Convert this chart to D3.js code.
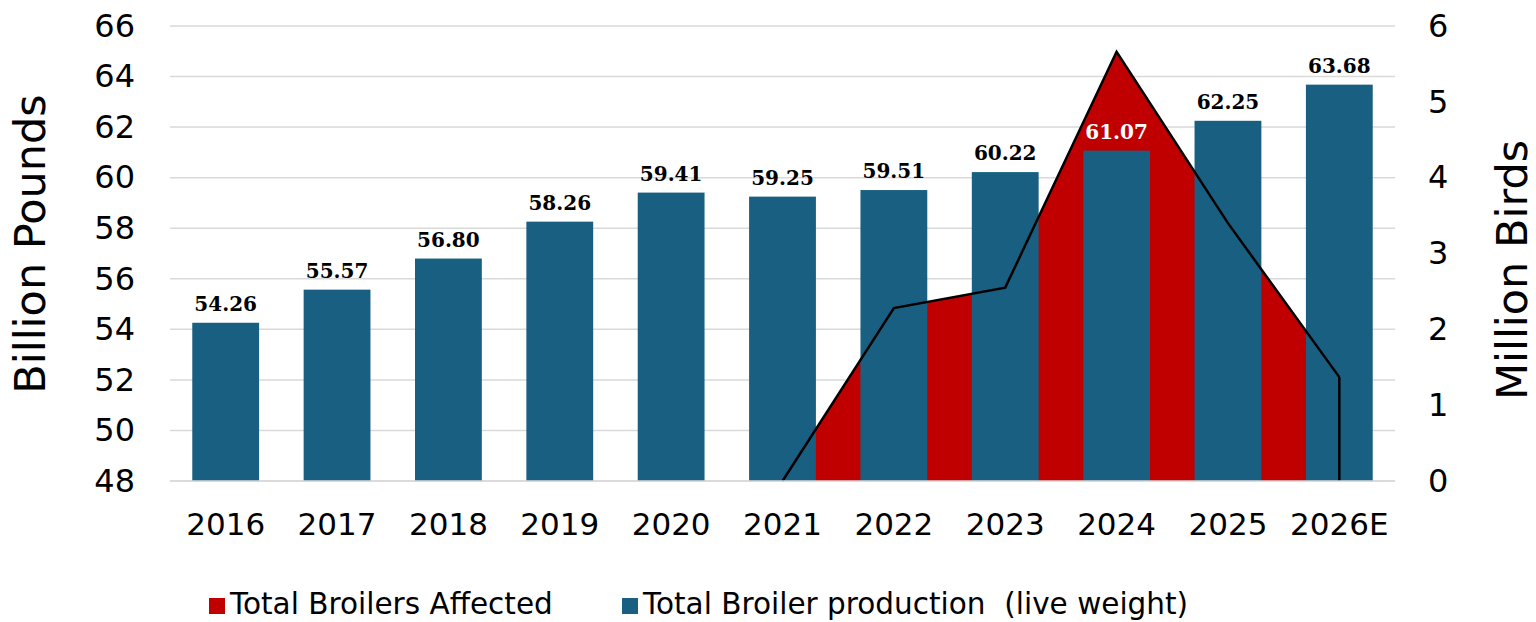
<!DOCTYPE html>
<html>
<head>
<meta charset="utf-8">
<script src="https://cdn.jsdelivr.net/npm/d3@7"></script>
<style>
  html, body { margin: 0; padding: 0; background: #fff; }
  svg { display: block; font-family: "DejaVu Sans", Verdana, sans-serif; }
</style>
</head>
<body>
<svg id="chart" width="1536" height="622"></svg>
<script>
// Broiler production (bars, left axis) vs broilers affected (area, right axis)
const categories = ['2016', '2017', '2018', '2019', '2020', '2021', '2022', '2023', '2024', '2025', '2026E'];
const production = [54.26, 55.57, 56.80, 58.26, 59.41, 59.25, 59.51, 60.22, 61.07, 62.25, 63.68];
const affected = [null, null, null, null, null, 0, 2.28, 2.55, 5.66, 3.40, 1.37];
const leftTicks = [48, 50, 52, 54, 56, 58, 60, 62, 64, 66];
const rightTicks = [0, 1, 2, 3, 4, 5, 6];

const BLUE = '#185f82', RED = '#c00000';

const svg = d3.select('#chart');
const plot = { left: 170, right: 1395, top: 26, bottom: 481 };

const x = d3.scaleBand()
  .domain(categories)
  .range([plot.left, plot.right])
  .paddingInner(0.4)
  .paddingOuter(0.2);

const y = d3.scaleLinear().domain([48, 66]).range([plot.bottom, plot.top]);
const yR = d3.scaleLinear().domain([0, 6]).range([plot.bottom, plot.top]);

// gridlines
svg.append('g')
  .selectAll('line')
  .data(leftTicks)
  .join('line')
  .attr('x1', plot.left)
  .attr('x2', plot.right)
  .attr('y1', d => y(d))
  .attr('y2', d => y(d))
  .attr('stroke', '#d9d9d9')
  .attr('stroke-width', 1.5);

// left axis
const yAxis = svg.append('g')
  .attr('transform', `translate(${plot.left},0)`)
  .call(d3.axisLeft(y).tickValues(leftTicks).tickSize(0).tickPadding(35));
yAxis.select('.domain').remove();
yAxis.selectAll('text')
  .attr('font-family', '"DejaVu Sans", sans-serif')
  .attr('font-size', 32)
  .attr('fill', '#000');

// right axis
const yAxisR = svg.append('g')
  .attr('transform', `translate(${plot.right},0)`)
  .call(d3.axisRight(yR).tickValues(rightTicks).tickFormat(d3.format('d')).tickSize(0).tickPadding(33));
yAxisR.select('.domain').remove();
yAxisR.selectAll('text')
  .attr('font-family', '"DejaVu Sans", sans-serif')
  .attr('font-size', 32)
  .attr('fill', '#000');

// x axis
const xAxis = svg.append('g')
  .attr('transform', `translate(0,${plot.bottom})`)
  .call(d3.axisBottom(x).tickSize(0).tickPadding(32));
xAxis.select('.domain').remove();
xAxis.selectAll('text')
  .attr('font-family', '"DejaVu Sans", sans-serif')
  .attr('font-size', 31)
  .attr('fill', '#000');

// affected area (behind bars)
const areaData = categories.map((c, i) => ({ c, v: affected[i] }));
const area = d3.area()
  .defined(d => d.v !== null)
  .x(d => x(d.c) + x.bandwidth() / 2)
  .y0(yR(0))
  .y1(d => yR(d.v));

svg.append('path')
  .datum(areaData)
  .attr('d', area)
  .attr('fill', RED);

// production bars
svg.append('g')
  .selectAll('rect')
  .data(categories)
  .join('rect')
  .attr('x', d => x(d))
  .attr('width', x.bandwidth())
  .attr('y', (d, i) => y(production[i]))
  .attr('height', (d, i) => plot.bottom - y(production[i]))
  .attr('fill', BLUE);

// outline of the area, drawn over bars
const line = d3.line()
  .defined(d => d.v !== null)
  .x(d => x(d.c) + x.bandwidth() / 2)
  .y(d => yR(d.v));

const lastArea = areaData[areaData.length - 1];
svg.append('path')
  .datum(areaData)
  .attr('d', line)
  .attr('fill', 'none')
  .attr('stroke', '#000')
  .attr('stroke-width', 2.5)
  .attr('stroke-linejoin', 'miter');

svg.append('line')
  .attr('x1', x(lastArea.c) + x.bandwidth() / 2)
  .attr('x2', x(lastArea.c) + x.bandwidth() / 2)
  .attr('y1', yR(lastArea.v))
  .attr('y2', yR(0))
  .attr('stroke', '#000')
  .attr('stroke-width', 2.5);

// baseline
svg.append('line')
  .attr('x1', plot.left)
  .attr('x2', plot.right)
  .attr('y1', plot.bottom)
  .attr('y2', plot.bottom)
  .attr('stroke', '#d9d9d9')
  .attr('stroke-width', 1.5);

// value labels
svg.append('g')
  .selectAll('text')
  .data(categories)
  .join('text')
  .attr('x', d => x(d) + x.bandwidth() / 2)
  .attr('y', (d, i) => y(production[i]) - 12)
  .attr('text-anchor', 'middle')
  .attr('font-family', '"DejaVu Serif", serif')
  .attr('font-weight', 'bold')
  .attr('font-size', 20)
  .attr('fill', (d, i) => (affected[i] !== null && yR(affected[i]) < y(production[i]) - 30) ? '#fff' : '#000')
  .text((d, i) => production[i].toFixed(2));

// axis titles
svg.append('text')
  .attr('transform', `translate(45,${244}) rotate(-90)`)
  .attr('text-anchor', 'middle')
  .attr('font-size', 43)
  .text('Billion Pounds');

svg.append('text')
  .attr('transform', `translate(1527,${270}) rotate(-90)`)
  .attr('text-anchor', 'middle')
  .attr('font-size', 43)
  .text('Million Birds');

// legend
const legendItems = [
  { label: 'Total Broilers Affected', color: RED, x: 209 },
  { label: 'Total Broiler production  (live weight)', color: BLUE, x: 622 }
];
const legend = svg.append('g');
legendItems.forEach(it => {
  legend.append('rect')
    .attr('x', it.x)
    .attr('y', 598)
    .attr('width', 16)
    .attr('height', 16)
    .attr('fill', it.color);
  legend.append('text')
    .attr('x', it.x + 21)
    .attr('y', 614)
    .attr('font-size', 29.5)
    .attr('xml:space', 'preserve')
    .style('white-space', 'pre')
    .text(it.label);
});
</script>
</body>
</html>
